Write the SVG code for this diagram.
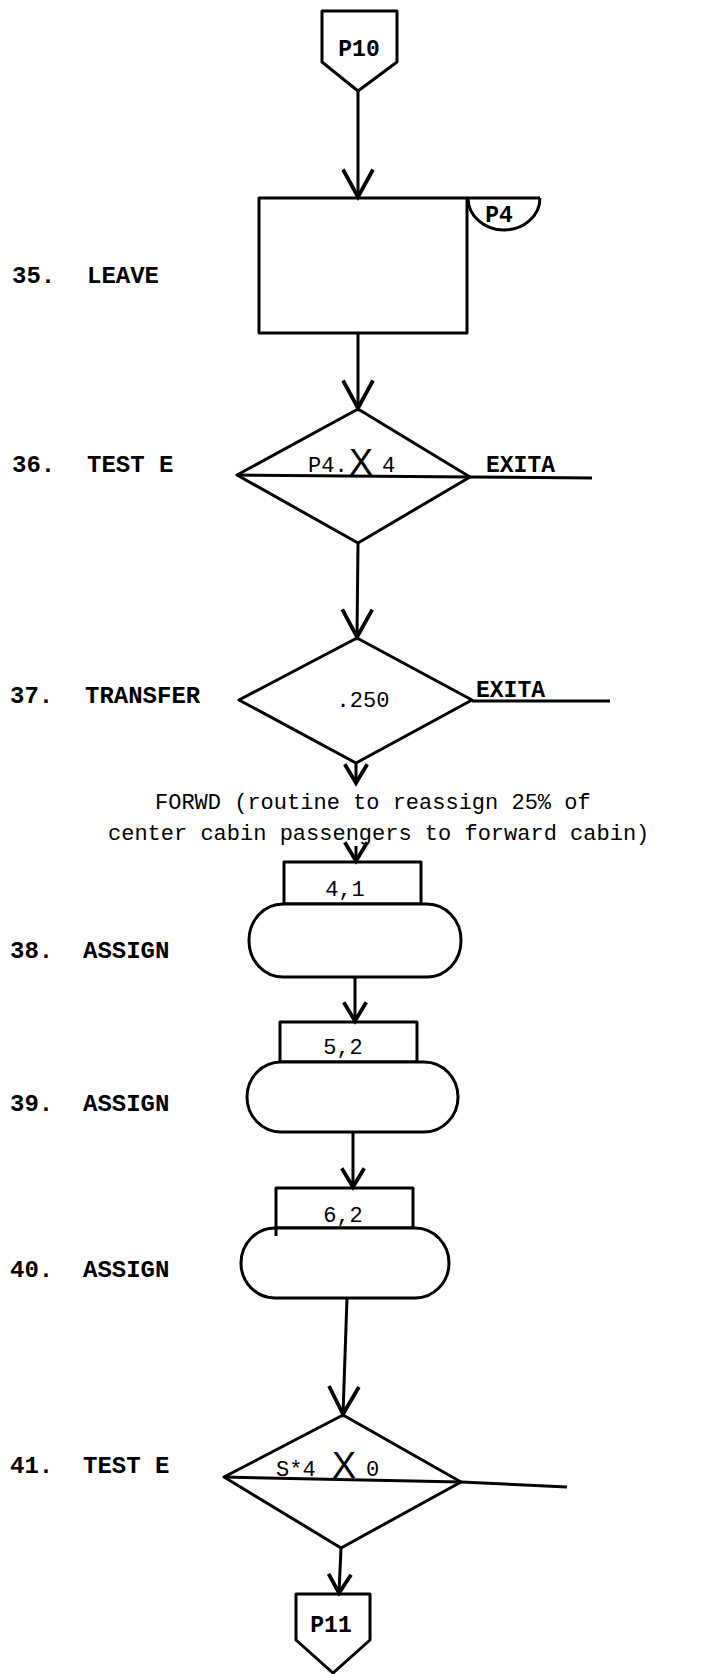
<svg xmlns="http://www.w3.org/2000/svg" width="720" height="1674" viewBox="0 0 720 1674">
<style>
.shape{fill:none;stroke:#000;stroke-width:3;stroke-linejoin:round}
.fillw{fill:#fff;stroke:#000;stroke-width:3}
.conn{fill:none;stroke:#000;stroke-width:3}
.lbl{font-family:"Liberation Mono",monospace;font-weight:bold;font-size:24px;fill:#000}
.t{font-family:"Liberation Mono",monospace;font-size:22px;fill:#000}
.tb{font-family:"Liberation Mono",monospace;font-weight:bold;font-size:23px;fill:#000}
.x{font-family:"Liberation Sans",sans-serif;font-size:36px;fill:#000}
</style>
<defs>
<marker id="aL" markerUnits="userSpaceOnUse" markerWidth="40" markerHeight="40" viewBox="-26 -16 30 32" refX="0" refY="0" orient="auto">
<path d="M-22,-12 L0,0 L-22,12" fill="none" stroke="#000" stroke-width="3"/>
</marker>
<marker id="aS" markerUnits="userSpaceOnUse" markerWidth="30" markerHeight="30" viewBox="-18 -12 22 24" refX="0" refY="0" orient="auto">
<path d="M-15,-9 L0,0 L-15,9" fill="none" stroke="#000" stroke-width="3"/>
</marker>
</defs>
<rect width="720" height="1674" fill="#fff"/>

<g id="labels">
<text class="lbl" x="12" y="283">35.</text><text class="lbl" x="87" y="283">LEAVE</text>
<text class="lbl" x="12" y="472">36.</text><text class="lbl" x="87" y="472">TEST E</text>
<text class="lbl" x="10" y="703">37.</text><text class="lbl" x="85" y="703">TRANSFER</text>
<text class="lbl" x="10" y="958">38.</text><text class="lbl" x="83" y="958">ASSIGN</text>
<text class="lbl" x="10" y="1111">39.</text><text class="lbl" x="83" y="1111">ASSIGN</text>
<text class="lbl" x="10" y="1277">40.</text><text class="lbl" x="83" y="1277">ASSIGN</text>
<text class="lbl" x="10" y="1473">41.</text><text class="lbl" x="83" y="1473">TEST E</text>
</g>

<g id="connectors">
<line class="conn" x1="358" y1="91" x2="358" y2="197" marker-end="url(#aL)"/>
<line class="conn" x1="358" y1="333" x2="358" y2="408" marker-end="url(#aL)"/>
<line class="conn" x1="358" y1="543" x2="357" y2="637" marker-end="url(#aL)"/>
<line class="conn" x1="356" y1="763" x2="356" y2="783" marker-end="url(#aS)"/>
<line class="conn" x1="356" y1="846" x2="356" y2="861" marker-end="url(#aS)"/>
<line class="conn" x1="355" y1="977" x2="355" y2="1021" marker-end="url(#aS)"/>
<line class="conn" x1="353" y1="1132" x2="353" y2="1187" marker-end="url(#aS)"/>
<line class="conn" x1="347" y1="1298" x2="343" y2="1414" marker-end="url(#aL)"/>
<line class="conn" x1="341" y1="1548" x2="339" y2="1593" marker-end="url(#aS)"/>
<line class="conn" x1="470" y1="477" x2="592" y2="478"/>
<line class="conn" x1="472" y1="701" x2="610" y2="701"/>
<line class="conn" x1="461" y1="1482" x2="567" y2="1487"/>
</g>

<g id="p10">
<polygon class="shape" points="322,11 397,11 397,62 358,91 322,62"/>
<text class="tb" x="359" y="56" text-anchor="middle" font-size="24">P10</text>
</g>

<g id="leave">
<rect class="shape" x="259" y="198" width="208" height="135"/>
<line class="conn" x1="467" y1="198" x2="540" y2="198"/>
<path class="shape" d="M468,198 A36,32 0 0 0 540,198"/>
<text class="tb" x="499" y="222" text-anchor="middle">P4</text>
</g>

<g id="test36">
<polygon class="shape" points="358,409 470,477 358,543 237,475"/>
<line class="conn" x1="237" y1="475" x2="470" y2="477" stroke-width="3.5"/>
<text class="t" x="308" y="472">P4.</text>
<text class="x" x="361" y="475" text-anchor="middle">X</text>
<text class="t" x="382" y="472">4</text>
<text class="tb" x="486" y="472">EXITA</text>
</g>

<g id="transfer37">
<polygon class="shape" points="357,638 472,700 356,763 239,700"/>
<text class="t" x="363" y="707" text-anchor="middle">.250</text>
<text class="tb" x="476" y="697">EXITA</text>
</g>

<g id="forwd">
<text class="t" x="155" y="809" font-size="24.4">FORWD (routine to reassign 25% of</text>
<text class="t" x="108" y="840" font-size="24.4">center cabin passengers to forward cabin)</text>
</g>

<g id="assign38">
<rect class="shape" x="284" y="862" width="137" height="42"/>
<rect class="fillw" x="249" y="904" width="212" height="73" rx="34" ry="36"/>
<text class="t" x="345" y="896" text-anchor="middle">4,1</text>
</g>

<g id="assign39">
<rect class="shape" x="280" y="1022" width="137" height="40"/>
<rect class="fillw" x="247" y="1062" width="211" height="70" rx="34" ry="35"/>
<text class="t" x="343" y="1054" text-anchor="middle">5,2</text>
</g>

<g id="assign40">
<rect class="shape" x="276" y="1188" width="137" height="40"/>
<rect class="fillw" x="241" y="1228" width="208" height="70" rx="34" ry="35"/>
<line class="conn" x1="276" y1="1226" x2="276" y2="1236"/>
<text class="t" x="343" y="1222" text-anchor="middle">6,2</text>
</g>

<g id="test41">
<polygon class="shape" points="343,1415 461,1482 341,1548 224,1477"/>
<line class="conn" x1="224" y1="1477" x2="461" y2="1482" stroke-width="3.5"/>
<text class="t" x="276" y="1476">S*4</text>
<text class="x" x="344" y="1478" text-anchor="middle">X</text>
<text class="t" x="366" y="1476">0</text>
</g>

<g id="p11">
<polygon class="shape" points="296,1594 370,1594 370,1640 333,1673 296,1640"/>
<text class="tb" x="331" y="1632" text-anchor="middle">P11</text>
</g>
</svg>
